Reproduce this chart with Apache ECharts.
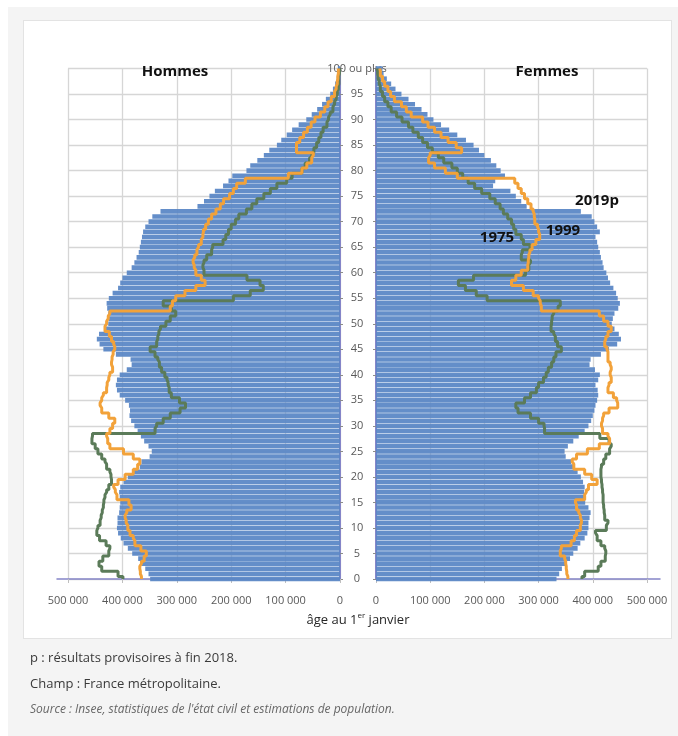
<!DOCTYPE html>
<html><head><meta charset="utf-8">
<script src="https://cdn.jsdelivr.net/npm/echarts@6/dist/echarts.min.js"></script>
<style>
html,body{margin:0;padding:0;width:678px;height:736px;background:#fff;overflow:hidden;font-family:'Open Sans',sans-serif;}
#bg{position:absolute;left:8px;top:7px;width:670px;height:729px;background:#f4f4f4;}
#panel{position:absolute;left:23px;top:20px;width:647px;height:617px;background:#fff;border:1px solid #e3e3e3;}
#chart{position:absolute;left:0;top:0;width:678px;height:736px;}
.note{position:absolute;left:30px;font-size:13px;color:#3a3a3a;white-space:nowrap;line-height:18px;}
</style></head>
<body>
<div id="bg"></div><div id="panel"></div>
<div id="chart"></div>
<div class="note" style="top:648px">p : résultats provisoires à fin 2018.</div>
<div class="note" style="top:674px">Champ : France métropolitaine.</div>
<div class="note" style="top:700px;font-size:12px;font-style:italic;color:#666">Source : Insee, statistiques de l'état civil et estimations de population.</div>
<script>
// ages 0..100 ("100 ou plus")
const ages = [];
for (let i = 0; i <= 100; i++) ages.push(i === 100 ? '100 ou plus' : String(i));

// values in thousands, index = age
const hommes2019 = [349,352,358,364,371,382,390,398,403,408,
 410,409,409,406,405,404,405,406,404,398,
 390,380,368,365,350,346,352,360,366,372,
 378,384,387,386,388,395,405,410,412,410,
 405,392,383,385,412,435,442,447,443,432,
 426,425,426,428,429,425,418,408,404,400,
 392,383,378,374,370,368,366,364,362,358,
 352,345,330,262,250,240,230,215,205,198,
 172,165,152,140,130,116,108,98,88,76,
 62,52,42,33,26,18,13,9,6,4,4];
const femmes2019 = [333,338,343,352,358,364,372,377,385,390,
 392,392,394,396,392,386,384,384,385,382,
 378,372,365,360,350,348,354,364,374,385,
 392,397,400,403,405,408,410,409,405,410,
 413,404,394,396,415,430,445,452,448,440,
 435,437,440,447,450,446,443,438,432,428,
 425,420,418,415,413,410,408,405,413,408,
 403,398,378,278,268,258,248,216,220,238,
 230,222,212,200,190,180,166,150,135,120,
 106,95,84,72,60,47,36,28,20,14,12];
const hommes1975 = [399,408,438,443,436,425,423,430,442,447,
 445,441,439,437,435,434,432,429,425,420,
 421,423,429,432,438,445,450,456,455,340,
 337,325,312,294,284,295,310,314,316,318,
 322,328,332,335,340,349,337,335,333,330,
 320,312,302,310,325,196,165,141,147,171,
 250,252,250,245,236,234,215,210,205,200,
 192,186,172,162,153,140,128,116,98,88,
 70,64,56,52,48,43,39,35,31,24,
 21,18,13,10,7,5,3,2,2,1,1];
const femmes1975 = [380,385,410,415,423,424,422,415,408,405,
 425,428,422,421,420,419,419,418,417,416,
 415,415,416,420,424,431,434,430,413,311,
 310,300,285,262,258,274,285,296,300,309,
 314,318,324,328,332,342,335,331,328,323,
 324,325,328,336,340,205,185,165,152,180,
 276,282,285,268,270,284,272,268,258,254,
 250,243,235,229,220,210,195,182,170,160,
 150,140,125,115,104,95,86,78,68,60,
 48,38,28,22,16,12,8,6,4,3,2];
const hommes1999 = [365,367,368,365,360,356,366,377,380,386,
 390,393,395,392,384,388,410,413,416,408,
 395,380,372,368,380,398,423,427,429,423,
 418,414,425,438,441,438,435,429,428,425,
 423,418,420,419,417,414,416,420,424,432,
 429,426,423,312,308,302,285,265,248,255,
 265,268,270,267,263,260,255,252,251,247,
 242,236,228,220,214,203,196,190,174,95,
 70,61,52,49,80,80,74,67,60,53,
 46,36,28,22,16,10,7,5,4,3,3];
const femmes1999 = [354,352,351,350,348,340,342,360,366,370,
 377,379,377,374,370,368,385,388,392,408,
 398,385,365,362,370,390,412,431,428,418,
 416,418,420,430,446,444,438,428,430,434,
 432,434,432,428,428,426,422,424,428,434,
 428,420,412,305,303,300,290,272,250,258,
 268,280,281,282,284,288,295,302,300,298,
 293,292,290,286,280,274,268,262,256,150,
 128,108,97,100,158,148,133,120,108,96,
 86,65,56,47,34,27,22,16,12,8,7];

const FONT = "'Open Sans', sans-serif";
const BAR = '#5a87c6', GREEN = '#5b7b59', ORANGE = '#f2a23a', AXIS = '#8585c8', GRID = '#d6d6d6';
const xFmt = v => v === 0 ? '0' : v + ' 000';

const valueAxis = (gi, inverse) => ({
  gridIndex: gi, type: 'value', min: 0, max: 500, interval: 100, inverse,
  axisLine: { show: false },
  axisTick: { show: true, length: 4, lineStyle: { color: '#bfbfbf' } },
  axisLabel: { formatter: xFmt, color: '#595959', fontSize: 11, fontFamily: FONT, margin: 16 },
  splitLine: { show: true, lineStyle: { color: GRID, width: 1.3 } }
});
const lineAxis = (gi, inverse) => ({
  gridIndex: gi, type: 'value', min: 0, max: 1, inverse,
  axisLine: { show: true, onZero: false, lineStyle: { color: AXIS, width: 1.5 } },
  axisTick: { show: false }, axisLabel: { show: false }, splitLine: { show: false }
});
const catAxis = (gi, pos, showLabel) => ({
  gridIndex: gi, type: 'category', data: ages, boundaryGap: false, position: pos,
  axisLine: { show: true, onZero: false, lineStyle: { color: AXIS, width: 2 } },
  axisTick: { show: true, interval: 4, length: 3, lineStyle: { color: '#8c8c8c' } },
  axisLabel: { show: showLabel, interval: 4, align: 'center', margin: 17, color: '#595959', fontSize: 11, fontFamily: FONT },
  splitLine: { show: true, interval: 4, lineStyle: { color: GRID, width: 1.3 } }
});

const mkBar = (data, i) => ({ type: 'bar', xAxisIndex: i, yAxisIndex: i, data, barCategoryGap: '9%',
  itemStyle: { color: BAR, opacity: 0.94 }, silent: true, z: 2 });
const mkLine = (data, i, color) => ({ type: 'line', xAxisIndex: i, yAxisIndex: i, data, step: 'middle',
  symbol: 'none', lineStyle: { color, width: 3 }, silent: true, z: 3 });

const txt = (x, y, text, size) => ({ type: 'text', x, y, z: 10,
  style: { text, font: 'bold ' + size + 'px ' + FONT, fill: '#111', align: 'center', verticalAlign: 'middle' } });

const option = {
  animation: false,
  textStyle: { fontFamily: FONT },
  grid: [
    { left: 68, top: 68.5, width: 272, height: 510.5 },
    { left: 376, top: 68.5, width: 271, height: 510.5 },
    { left: 57, top: 68.5, width: 283, height: 510.5 },
    { left: 376, top: 68.5, width: 284, height: 510.5 }
  ],
  xAxis: [valueAxis(0, true), valueAxis(1, false), lineAxis(2, true), lineAxis(3, false)],
  yAxis: [catAxis(0, 'right', true), catAxis(1, 'left', false),
    { gridIndex: 2, type: 'category', data: ages, show: false },
    { gridIndex: 3, type: 'category', data: ages, show: false }],
  series: [
    mkBar(hommes2019, 0), mkLine(hommes1975, 0, GREEN), mkLine(hommes1999, 0, ORANGE),
    mkBar(femmes2019, 1), mkLine(femmes1975, 1, GREEN), mkLine(femmes1999, 1, ORANGE)
  ],
  graphic: [
    txt(175, 72, 'Hommes', 15), txt(547, 72, 'Femmes', 15),
    txt(597, 201, '2019p', 15), txt(563, 231, '1999', 15), txt(497, 238, '1975', 15),
    { type: 'text', x: 358, y: 620, z: 10, style: {
      text: '{a|âge au 1}{s|er}{a| janvier}', align: 'center', verticalAlign: 'middle',
      rich: { a: { fontSize: 13, fontFamily: FONT, fill: '#262626', lineHeight: 16 },
              s: { fontSize: 8, fontFamily: FONT, fill: '#262626', lineHeight: 10, verticalAlign: 'top' } } } }
  ]
};
const chart = echarts.init(document.getElementById('chart'), null, { renderer: 'canvas' });
chart.setOption(option);
</script>
</body></html>
